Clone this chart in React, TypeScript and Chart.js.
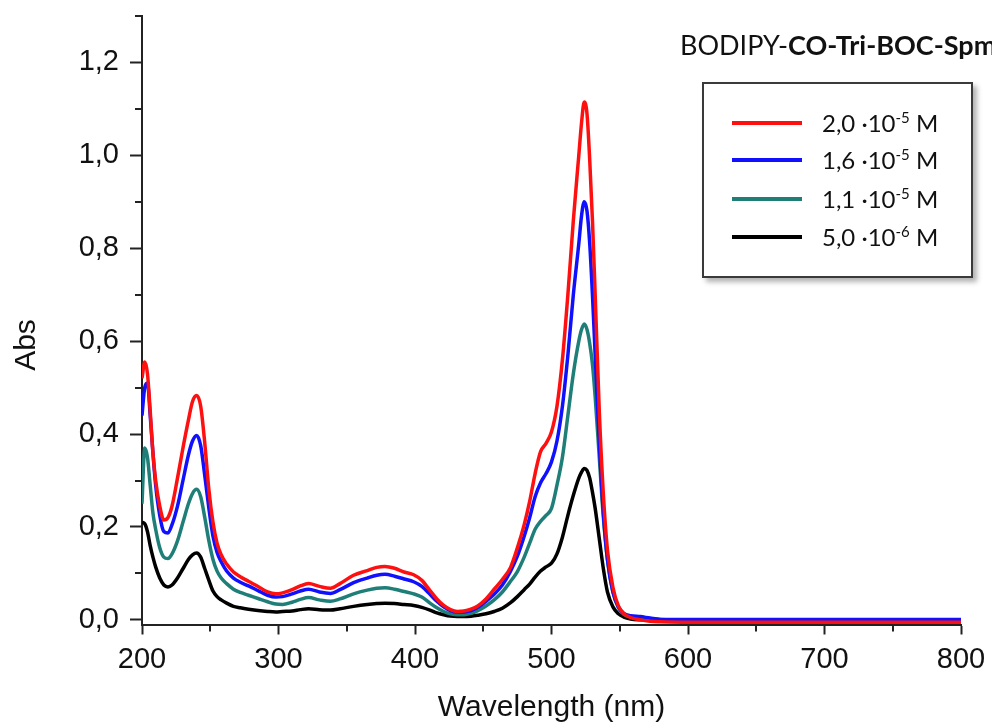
import React, { useEffect, useRef } from 'react';
import { Chart, registerables } from 'chart.js';

Chart.register(...registerables);

// Wavelength grid (nm)
const wavelengths = [
  200, 202, 204, 206, 208, 210, 213, 216, 219, 222, 226, 230, 234, 237, 240, 243, 246, 249, 252, 255,
  258, 262, 267, 272, 278, 285, 292, 298, 303, 310, 316, 322, 330, 338, 345, 355, 365, 372, 378, 385,
  392, 399, 405, 411, 416, 421, 426, 431, 436, 441, 446, 452, 458, 464, 470, 475, 480, 484, 488, 492,
  496, 500, 504, 508, 512, 516, 520, 522, 524, 526, 528, 530, 532, 535, 538, 541, 545, 549, 553, 558,
  565, 572, 580, 600, 650, 700, 750, 800,
];

// Absorbance, 2,0·10^-5 M
const absRed = [
  0.52, 0.555, 0.53, 0.45, 0.36, 0.30, 0.245, 0.215, 0.22, 0.245, 0.305, 0.37, 0.43, 0.47, 0.483, 0.46, 0.38, 0.28, 0.21, 0.165,
  0.14, 0.12, 0.103, 0.093, 0.083, 0.072, 0.06, 0.056, 0.058, 0.065, 0.073, 0.078, 0.072, 0.068, 0.078, 0.096, 0.106, 0.113, 0.115, 0.111,
  0.103, 0.097, 0.085, 0.063, 0.045, 0.031, 0.022, 0.018, 0.019, 0.023, 0.03, 0.045, 0.066, 0.087, 0.113, 0.155, 0.205, 0.255, 0.315, 0.362,
  0.38, 0.405, 0.46, 0.56, 0.70, 0.86, 1.00, 1.07, 1.115, 1.09, 0.99, 0.86, 0.70, 0.45, 0.27, 0.15, 0.07, 0.03, 0.013, 0.005,
  0.0, -0.003, -0.004, -0.005, -0.005, -0.005, -0.005, -0.005,
];

// Absorbance, 1,6·10^-5 M
const absBlue = [
  0.44, 0.50, 0.51, 0.44, 0.36, 0.29, 0.225, 0.19, 0.187, 0.205, 0.245, 0.30, 0.355, 0.385, 0.397, 0.375, 0.31, 0.24, 0.18, 0.145,
  0.125, 0.105, 0.09, 0.081, 0.073, 0.063, 0.053, 0.049, 0.05, 0.056, 0.062, 0.066, 0.06, 0.057, 0.065, 0.08, 0.09, 0.096, 0.098, 0.094,
  0.088, 0.082, 0.072, 0.055, 0.04, 0.028, 0.02, 0.017, 0.017, 0.02, 0.027, 0.04, 0.055, 0.075, 0.105, 0.137, 0.18, 0.22, 0.265, 0.295,
  0.315, 0.34, 0.385, 0.46, 0.57, 0.70, 0.81, 0.87, 0.90, 0.88, 0.81, 0.70, 0.57, 0.38, 0.23, 0.13, 0.06, 0.028, 0.014, 0.009,
  0.007, 0.004, 0.001, 0.001, 0.001, 0.001, 0.001, 0.001,
];

// Absorbance, 1,1·10^-5 M
const absTeal = [
  0.25, 0.37, 0.35, 0.29, 0.23, 0.195, 0.155, 0.135, 0.132, 0.142, 0.17, 0.21, 0.25, 0.272, 0.281, 0.265, 0.22, 0.17, 0.13, 0.105,
  0.09, 0.078, 0.066, 0.059, 0.053, 0.046, 0.039, 0.034, 0.033, 0.038, 0.044, 0.048, 0.043, 0.04, 0.045, 0.056, 0.064, 0.068, 0.069, 0.066,
  0.061, 0.056, 0.049, 0.036, 0.026, 0.018, 0.013, 0.011, 0.011, 0.014, 0.02, 0.03, 0.043, 0.06, 0.083, 0.104, 0.135, 0.165, 0.195, 0.212,
  0.225, 0.24, 0.29, 0.35, 0.44, 0.53, 0.60, 0.625, 0.637, 0.625, 0.595, 0.55, 0.48, 0.35, 0.22, 0.13, 0.06, 0.026, 0.012, 0.007,
  0.005, 0.003, 0.001, 0.0, 0.0, 0.0, 0.0, 0.0,
];

// Absorbance, 5,0·10^-6 M
const absBlack = [
  0.21, 0.207, 0.19, 0.16, 0.135, 0.114, 0.09, 0.075, 0.071, 0.075, 0.09, 0.11, 0.13, 0.14, 0.144, 0.135, 0.11, 0.085, 0.062, 0.05,
  0.043, 0.036, 0.029, 0.026, 0.023, 0.02, 0.018, 0.017, 0.018, 0.019, 0.022, 0.024, 0.022, 0.021, 0.024, 0.029, 0.033, 0.035, 0.036, 0.035,
  0.033, 0.031, 0.027, 0.021, 0.015, 0.011, 0.008, 0.007, 0.007, 0.008, 0.01, 0.013, 0.018, 0.025, 0.037, 0.05, 0.065, 0.077, 0.092, 0.105,
  0.114, 0.122, 0.142, 0.178, 0.225, 0.268, 0.305, 0.318, 0.326, 0.322, 0.305, 0.275, 0.24, 0.175, 0.11, 0.06, 0.028, 0.013, 0.006, 0.002,
  0.0, -0.001, -0.002, -0.002, -0.002, -0.002, -0.002, -0.002,
];

const concMantissa = ['2,0', '1,6', '1,1', '5,0'];
const concExponent = ['-5', '-5', '-5', '-6'];
const seriesValues = [absRed, absBlue, absTeal, absBlack];
const seriesColors = ['#ff1010', '#1010ff', '#1f7f78', '#000000'];

const xTicks = [200, 300, 400, 500, 600, 700, 800];
const xMinorTicks = [250, 350, 450, 550, 650, 750];
const yTicks = [0, 0.2, 0.4, 0.6, 0.8, 1.0, 1.2];
const yMinorTicks = [0.1, 0.3, 0.5, 0.7, 0.9, 1.1, 1.3];

const titlePlain = 'BODIPY-';
const titleBold = 'CO-Tri-BOC-Spm';
const xTitle = 'Wavelength (nm)';
const yTitle = 'Abs';

const AXIS_COLOR = '#222';
const TEXT_COLOR = '#111';
const AXIS_FONT = "'Liberation Sans', Arial, sans-serif";
const LABEL_FONT = "Lato, 'Open Sans', sans-serif";

const minorTickPlugin = {
  id: 'minorTicks',
  afterDraw(chart: any) {
    const { ctx, scales } = chart;
    const xs = scales.x;
    const ys = scales.y;
    ctx.save();
    ctx.strokeStyle = AXIS_COLOR;
    ctx.lineWidth = 2;
    ctx.beginPath();
    xMinorTicks.forEach((v) => {
      const px = Math.round(xs.getPixelForValue(v));
      ctx.moveTo(px, xs.top);
      ctx.lineTo(px, xs.top + 7);
    });
    yMinorTicks.forEach((v) => {
      const py = Math.round(ys.getPixelForValue(v));
      ctx.moveTo(ys.right - 7, py);
      ctx.lineTo(ys.right, py);
    });
    ctx.stroke();
    // y axis title
    ctx.fillStyle = TEXT_COLOR;
    ctx.font = `30px ${AXIS_FONT}`;
    ctx.textAlign = 'center';
    ctx.textBaseline = 'middle';
    ctx.translate(27, 345);
    ctx.rotate(-Math.PI / 2);
    ctx.fillText(yTitle, 0, 0);
    ctx.restore();
  },
};

function ChartCanvas() {
  const ref = useRef<HTMLCanvasElement | null>(null);
  useEffect(() => {
    if (!ref.current) return;
    const datasets = seriesValues.map((vals, i) => ({
      label: concMantissa[i] + ' ·10' + concExponent[i] + ' M',
      data: wavelengths.map((w, j) => ({ x: w, y: vals[j] })),
      borderColor: seriesColors[i],
      backgroundColor: seriesColors[i],
      borderWidth: 3.5,
      pointRadius: 0,
      cubicInterpolationMode: 'monotone' as const,
      fill: false,
    }));
    const chart = new Chart(ref.current, {
      type: 'line',
      data: { datasets },
      plugins: [minorTickPlugin],
      options: {
        responsive: false,
        animation: false,
        layout: { padding: { left: 0, right: 31, top: 16, bottom: 0 } },
        plugins: { legend: { display: false }, tooltip: { enabled: false }, title: { display: false } },
        scales: {
          x: {
            type: 'linear',
            min: 200,
            max: 800,
            afterBuildTicks: (s: any) => {
              s.ticks = xTicks.map((v) => ({ value: v }));
            },
            afterFit: (s: any) => {
              s.height = 102.5;
              s.paddingLeft = 0;
              s.paddingRight = 0;
            },
            grid: { drawOnChartArea: false, drawTicks: true, tickLength: 10, tickWidth: 2, tickColor: AXIS_COLOR },
            border: { display: true, color: AXIS_COLOR, width: 2 },
            ticks: {
              autoSkip: false,
              maxRotation: 0,
              padding: 8,
              color: TEXT_COLOR,
              font: { family: AXIS_FONT, size: 29 },
              callback: (v: any) => String(v),
            },
            title: {
              display: true,
              text: xTitle,
              color: TEXT_COLOR,
              font: { family: AXIS_FONT, size: 30 },
              padding: { top: 0, bottom: 1 },
            },
          },
          y: {
            type: 'linear',
            min: -0.01,
            max: 1.3,
            afterBuildTicks: (s: any) => {
              s.ticks = yTicks.map((v) => ({ value: v }));
            },
            afterFit: (s: any) => {
              s.width = 142;
              s.paddingTop = 0;
              s.paddingBottom = 0;
            },
            grid: { drawOnChartArea: false, drawTicks: true, tickLength: 12, tickWidth: 2, tickColor: AXIS_COLOR },
            border: { display: true, color: AXIS_COLOR, width: 2 },
            ticks: {
              padding: 11,
              color: TEXT_COLOR,
              font: { family: AXIS_FONT, size: 29 },
              callback: (v: any) => Number(v).toFixed(1).replace('.', ','),
            },
            title: { display: false },
          },
        },
      },
    });
    return () => chart.destroy();
  }, []);
  return <canvas ref={ref} width={992} height={727} style={{ position: 'absolute', left: 0, top: 0, width: 992, height: 727 }} />;
}

function Legend() {
  const rowCenters = [123, 160, 199, 237];
  const boxLeft = 702;
  const boxTop = 82;
  return (
    <div
      style={{
        position: 'absolute',
        left: boxLeft,
        top: boxTop,
        width: 271,
        height: 196,
        boxSizing: 'border-box',
        border: '2px solid #3a3a3a',
        background: '#fff',
        boxShadow: '4px 4px 5px rgba(0,0,0,0.3)',
      }}
    >
      {concMantissa.map((m, i) => (
        <div
          key={i}
          style={{
            position: 'absolute',
            left: 0,
            top: rowCenters[i] - boxTop - 2 - 15,
            height: 30,
            width: 265,
          }}
        >
          <div
            style={{
              position: 'absolute',
              left: 732 - boxLeft - 2,
              top: 13,
              width: 70,
              height: 4,
              background: seriesColors[i],
            }}
          />
          <div
            style={{
              position: 'absolute',
              left: 822 - boxLeft - 2,
              top: 0,
              height: 30,
              lineHeight: '30px',
              fontFamily: LABEL_FONT,
              fontSize: 24,
              color: TEXT_COLOR,
              whiteSpace: 'nowrap',
            }}
          >
            {m} ·10
            <span style={{ fontSize: 15, position: 'relative', top: -9 }}>{concExponent[i]}</span> M
          </div>
        </div>
      ))}
    </div>
  );
}

export default function App() {
  return (
    <div style={{ position: 'absolute', left: 0, top: 0, width: 992, height: 727, overflow: 'hidden', background: '#fff' }}>
      <ChartCanvas />
      <div
        style={{
          position: 'absolute',
          left: 680,
          top: 30,
          fontFamily: LABEL_FONT,
          fontSize: 27,
          lineHeight: '30px',
          color: TEXT_COLOR,
          whiteSpace: 'nowrap',
        }}
      >
        {titlePlain}
        <b>{titleBold}</b>
      </div>
      <Legend />
    </div>
  );
}
